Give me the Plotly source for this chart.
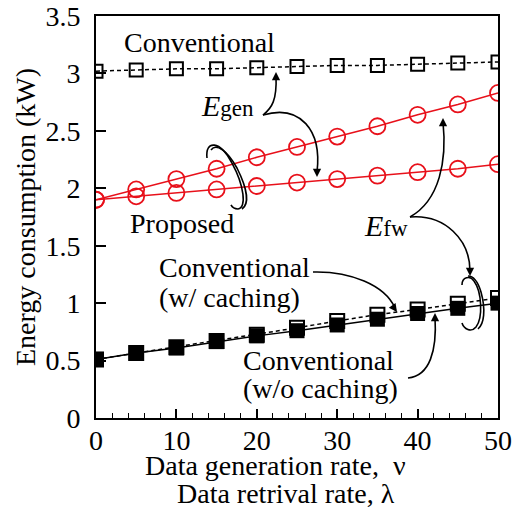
import plotly.graph_objects as go

# ---------------- data ----------------
rate = [0, 5, 10, 15, 20, 25, 30, 35, 40, 45, 50]
conv_gen = [3.02, 3.03, 3.04, 3.04, 3.05, 3.06, 3.07, 3.07, 3.08, 3.09, 3.10]
prop_upper = [1.90, 1.99, 2.08, 2.17, 2.27, 2.36, 2.45, 2.54, 2.64, 2.73, 2.83]
prop_lower = [1.90, 1.93, 1.96, 1.99, 2.02, 2.05, 2.08, 2.11, 2.14, 2.17, 2.21]
conv_fw_cache = [0.51, 0.565, 0.615, 0.67, 0.725, 0.785, 0.845, 0.90, 0.945, 0.995, 1.045]
conv_fw_nocache = [0.51, 0.565, 0.61, 0.665, 0.715, 0.76, 0.81, 0.86, 0.91, 0.955, 1.0]

W, H = 512, 509
L, R, T, B = 96, 498, 16, 418
FONT = "Liberation Serif, Times New Roman, serif"
RED = "#e8101a"


def P(px, py):
    return (px - L) / (R - L), (B - py) / (B - T)


def path(pts_str):
    out = []
    for tok in pts_str.split():
        if "," in tok:
            a, b = tok.split(",")
            x, y = P(float(a), float(b))
            out.append(f"{x:.4f},{y:.4f}")
        else:
            out.append(tok)
    return " ".join(out)


fig = go.Figure()

fig.add_trace(go.Scatter(x=rate, y=prop_upper, mode="lines+markers",
                         line=dict(color=RED, width=1.6),
                         marker=dict(symbol="circle-open", size=16, color=RED, line=dict(width=1.8))))
fig.add_trace(go.Scatter(x=rate, y=prop_lower, mode="lines+markers",
                         line=dict(color=RED, width=1.6),
                         marker=dict(symbol="circle-open", size=16, color=RED, line=dict(width=1.8))))
fig.add_trace(go.Scatter(x=rate, y=conv_gen, mode="lines+markers",
                         line=dict(color="black", width=1.5, dash="4px,3px"),
                         marker=dict(symbol="square-open", size=13, color="black", line=dict(width=2))))
fig.add_trace(go.Scatter(x=rate, y=conv_fw_cache, mode="lines+markers",
                         line=dict(color="black", width=1.5, dash="4px,3px"),
                         marker=dict(symbol="square-open", size=14, color="black", line=dict(width=2))))
fig.add_trace(go.Scatter(x=rate, y=conv_fw_nocache, mode="lines+markers",
                         line=dict(color="black", width=1.5),
                         marker=dict(symbol="square", size=15, color="black", line=dict(width=0))))

shapes = []
curves = [
    "M 263,115 C 272,108 277,100 276,76",
    "M 263,115 C 300,104 322,130 317,172",
    "M 410,217 C 440,200 447,160 443,122",
    "M 410,217 C 445,214 470,240 470,271",
    "M 313,272 C 350,271 385,285 395,308",
    "M 408,378 C 430,376 437,350 435,317",
    # left brace (double)
    "M 207,158 C 205,140 220,140 232,163 C 244,185 247,208 238,209 C 234,209 232,207 231,205",
    "M 211,150 C 216,143 227,150 237,168 C 248,190 249,204 242,209",
    # right brace (double)
    "M 462,285 C 462,277 470,275 474,281 C 482,292 483,318 476,327 C 471,333 464,329 462,323",
    "M 468,276 C 474,276 478,282 481,292 C 486,310 484,324 478,329",
]
for c in curves:
    shapes.append(dict(type="path", xref="paper", yref="paper", path=path(c),
                       line=dict(color="black", width=1.6), layer="above"))

ann = []


def text(s, px, py, xanchor="left", size=28):
    x, y = P(px, py)
    ann.append(dict(x=x, y=y, xref="paper", yref="paper", text=s, showarrow=False,
                    xanchor=xanchor, yanchor="middle", font=dict(family=FONT, size=size, color="black")))


def head(px, py, dx, dy):
    x, y = P(px, py)
    ann.append(dict(x=x, y=y, xref="paper", yref="paper", text="", showarrow=True,
                    ax=dx, ay=dy, arrowhead=2, arrowsize=1.1, arrowwidth=1.5, arrowcolor="black"))


text("Conventional", 122, 43)
text("<i>E</i><span style='font-size:23px'>gen</span>", 199, 106, size=30)
text("Proposed", 128, 223)
text("<i>E</i><span style='font-size:23px'>fw</span>", 362, 225, size=30)
text("Conventional", 157, 267)
text("(w/ caching)", 157, 297)
text("Conventional", 241, 360)
text("(w/o caching)", 241, 388)
text("Data generation rate,  ν", 275, 465, xanchor="center")
text("Data retrival rate, λ", 286, 493, xanchor="center")

x, y = P(25, 217)
ann.append(dict(x=x, y=y, xref="paper", yref="paper", text="Energy consumption (kW)",
                showarrow=False, textangle=-90, xanchor="center", yanchor="middle",
                font=dict(family=FONT, size=28, color="black")))

head(276, 72, 0, 8)
head(317, 177, 0, -8)
head(443, 118, 0, 8)
head(470, 276, 0, -8)
head(397, 312, -5, -7)
head(435, 313, 0, 8)

fig.update_layout(
    width=W, height=H,
    margin=dict(l=L, r=W - R, t=T, b=H - B, autoexpand=False),
    paper_bgcolor="white", plot_bgcolor="white",
    showlegend=False,
    font=dict(family=FONT, size=28, color="black"),
    shapes=shapes, annotations=ann,
    xaxis=dict(range=[0, 50], dtick=10, tick0=0, ticks="inside", ticklen=9, tickwidth=1.5,
               tickcolor="black", showline=True, linecolor="black", linewidth=2, mirror=True,
               showgrid=False, zeroline=False, ticklabelstandoff=-4, automargin=False,
               minor=dict(dtick=2, ticks="inside", ticklen=5, tickwidth=1.2, tickcolor="black", showgrid=False),
               tickfont=dict(family=FONT, size=28)),
    yaxis=dict(range=[0, 3.5], dtick=0.5, tick0=0, ticks="inside", ticklen=10, tickwidth=1.5,
               tickcolor="black", showline=True, linecolor="black", linewidth=2, mirror=True,
               showgrid=False, zeroline=False, ticklabelstandoff=8, automargin=False,
               tickfont=dict(family=FONT, size=28)),
)

fig.write_html("out.html")
